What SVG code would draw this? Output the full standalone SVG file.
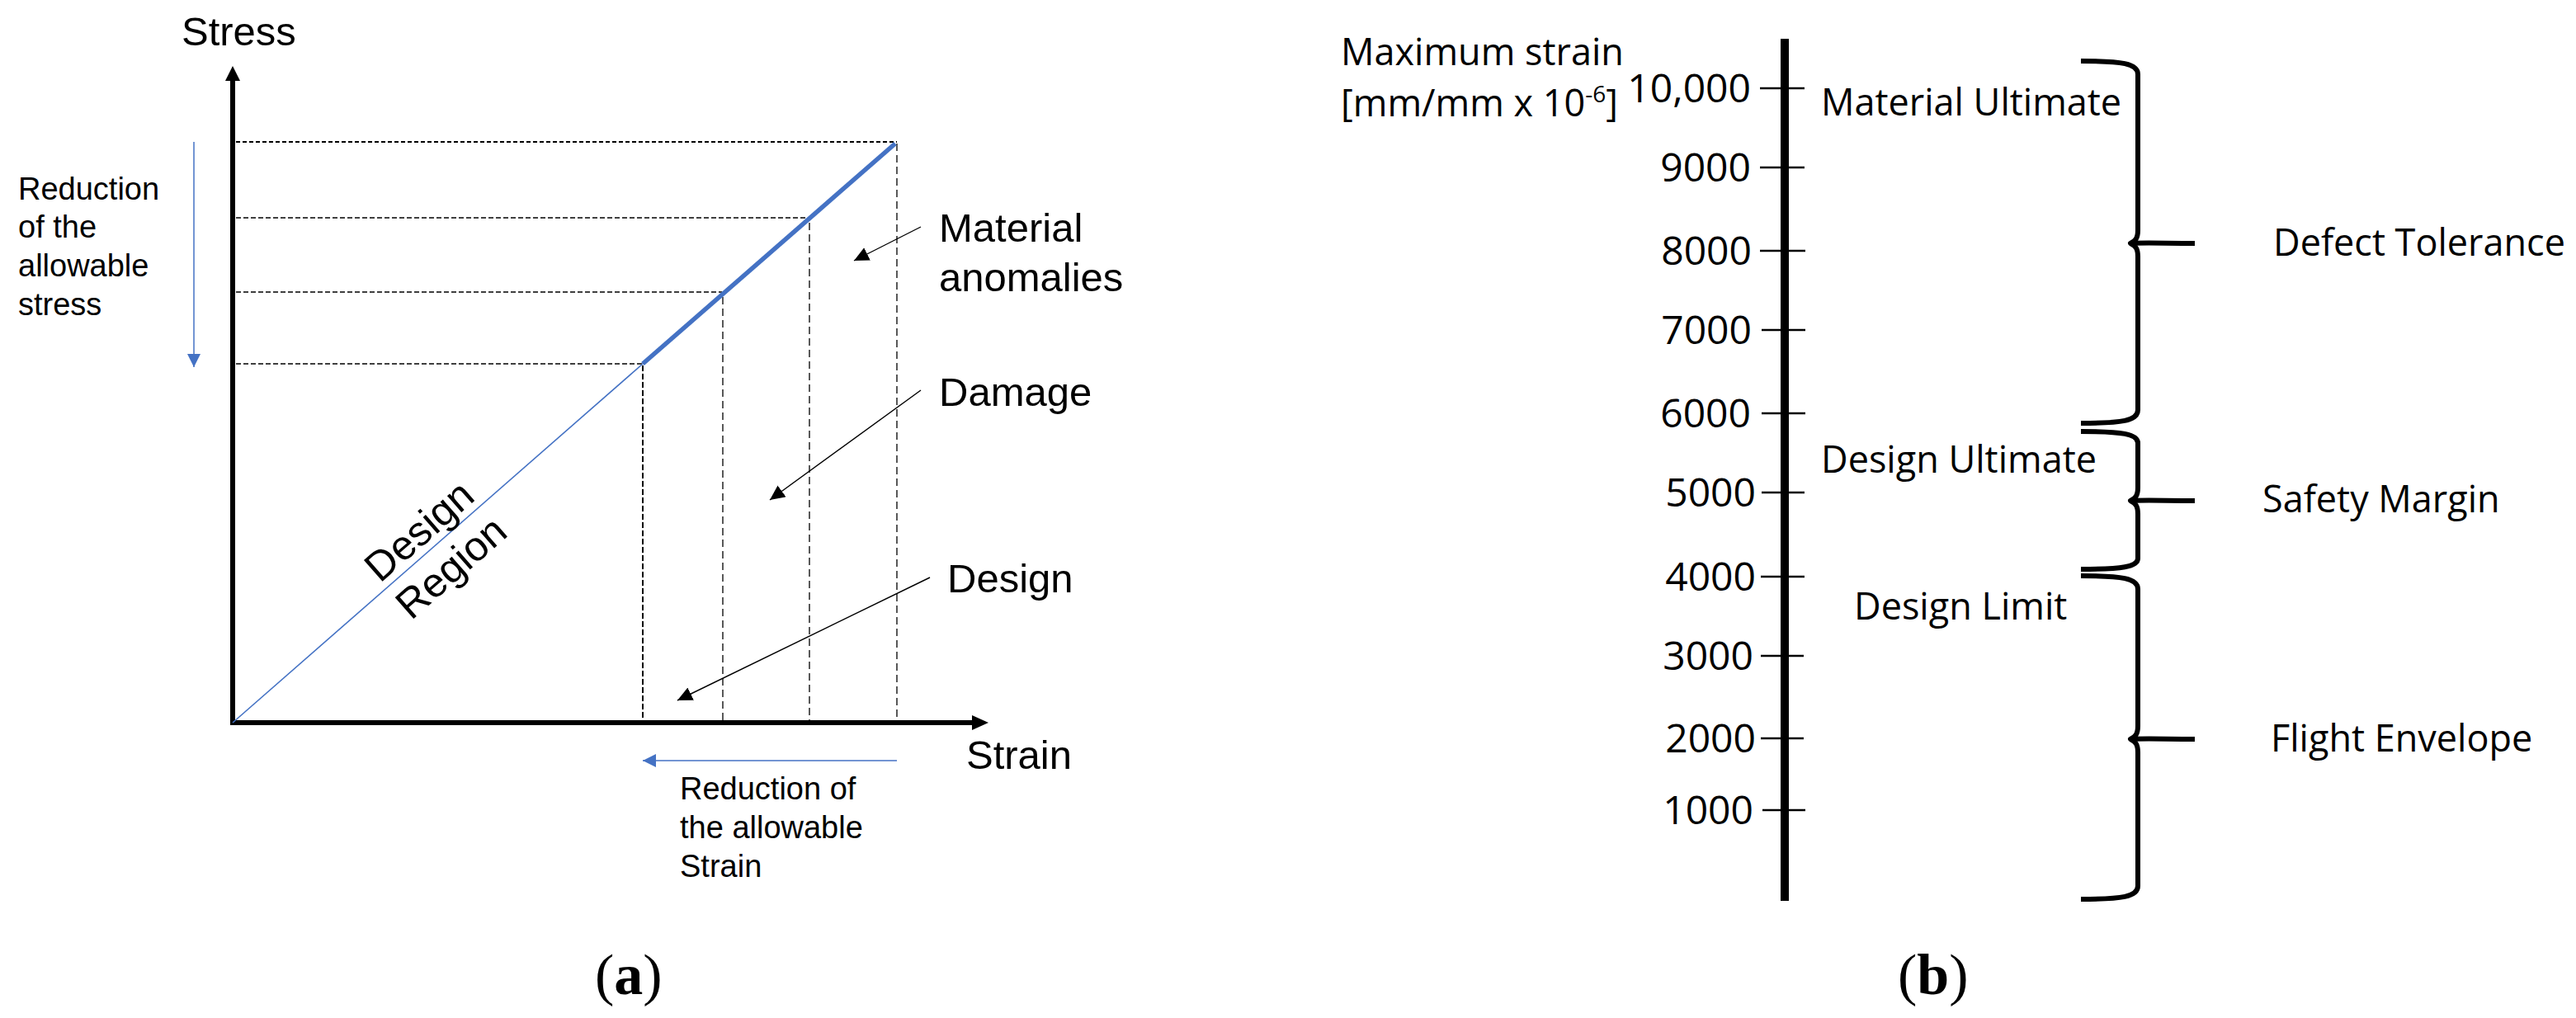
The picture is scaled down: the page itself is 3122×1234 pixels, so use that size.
<svg xmlns="http://www.w3.org/2000/svg" width="3122" height="1234" viewBox="0 0 3122 1234">
<style>
.sa{font-family:"Liberation Sans",Arial,sans-serif;fill:#000}
.sb{font-family:"Open Sans","Noto Sans",sans-serif;fill:#000}
.serif{font-family:"Liberation Serif","Times New Roman",serif;fill:#000}
.axis{stroke:#000;stroke-width:6;fill:none}
.dA{stroke:#000;stroke-width:2;stroke-dasharray:5 3;fill:none}
.dB{stroke:#000;stroke-width:1.3;stroke-dasharray:6 3;fill:none}
.dV{stroke:#000;stroke-width:1.3;stroke-dasharray:9 5;fill:none}
.ann{stroke:#000;stroke-width:1.4;fill:none;marker-end:url(#ah)}
.blue{stroke:#4472C4;fill:none}
.tick{stroke:#000;stroke-width:2.5}
.brace{stroke:#000;stroke-width:6;fill:none;stroke-linejoin:round;stroke-linecap:butt}
</style>
<defs>
<marker id="ah" markerUnits="userSpaceOnUse" markerWidth="19" markerHeight="18" refX="18" refY="8.5" orient="auto">
<path d="M0,0 L18,8.5 L0,17 z" fill="#000"/>
</marker>
<marker id="bh" markerUnits="userSpaceOnUse" markerWidth="18" markerHeight="18" refX="16" refY="8" orient="auto">
<path d="M0,0 L16,8 L0,16 z" fill="#4472C4"/>
</marker>
</defs>
<rect x="0" y="0" width="3122" height="1234" fill="#fff"/>

<!-- Panel (a) -->
<g id="panel-a">
<g id="axes">
<line class="axis" x1="282" y1="96" x2="282" y2="879"/>
<polygon points="282,80 273,98 291,98" fill="#000"/>
<line class="axis" x1="279" y1="876" x2="1180" y2="876"/>
<polygon points="1198,876 1178,867 1178,885" fill="#000"/>
<text class="sa" x="220" y="55" font-size="49">Stress</text>
<text class="sa" x="1171" y="932" font-size="49">Strain</text>
</g>
<g id="guides">
<line class="dA" x1="286" y1="172" x2="1087" y2="172"/>
<line class="dB" x1="286" y1="264" x2="978" y2="264"/>
<line class="dB" x1="286" y1="354" x2="875" y2="354"/>
<line class="dB" x1="286" y1="441" x2="779" y2="441"/>
<line stroke="#000" stroke-width="2" stroke-dasharray="7 3" x1="779" y1="443" x2="779" y2="873"/>
<line class="dV" x1="876" y1="360" x2="876" y2="873"/>
<line class="dV" x1="981" y1="270" x2="981" y2="873"/>
<line class="dV" x1="1087" y1="174" x2="1087" y2="873"/>
</g>
<g id="curve">
<line class="blue" stroke-width="1.6" x1="282" y1="876" x2="779" y2="441"/>
<line class="blue" stroke-width="5.5" x1="779" y1="441" x2="1085" y2="174"/>
</g>
<g id="design-region" transform="translate(525,663) rotate(-41.2)">
<text class="sa" x="0" y="-9" font-size="50" text-anchor="middle">Design</text>
<text class="sa" x="0" y="50" font-size="50" text-anchor="middle">Region</text>
</g>
<g id="label-material">
<text class="sa" x="1138" y="293" font-size="49">Material</text>
<text class="sa" x="1138" y="353" font-size="49">anomalies</text>
</g>
<g id="label-damage"><text class="sa" x="1138" y="492" font-size="49">Damage</text></g>
<g id="label-design"><text class="sa" x="1148" y="718" font-size="49">Design</text></g>
<g id="stress-reduction">
<text class="sa" font-size="38"><tspan x="22" y="242">Reduction</tspan><tspan x="22" y="288">of the</tspan><tspan x="22" y="335">allowable</tspan><tspan x="22" y="382">stress</tspan></text>
</g>
<g id="strain-reduction">
<text class="sa" font-size="38"><tspan x="824" y="969">Reduction of</tspan><tspan x="824" y="1016">the allowable</tspan><tspan x="824" y="1063">Strain</tspan></text>
</g>
<g id="connectors-a">
<line class="ann" x1="1116" y1="275" x2="1035" y2="316"/>
<line class="ann" x1="1116" y1="473" x2="933" y2="606"/>
<line class="ann" x1="1127" y1="700" x2="821" y2="849"/>
<line class="blue" stroke-width="1.5" x1="235" y1="172" x2="235" y2="445" marker-end="url(#bh)"/>
<line class="blue" stroke-width="1.5" x1="1087" y1="922" x2="779" y2="922" marker-end="url(#bh)"/>
</g>
<text class="serif" x="721" y="1205" font-size="70">(<tspan font-weight="bold">a</tspan>)</text>
</g>

<!-- Panel (b) -->
<g id="panel-b">
<g id="scale">
<line stroke="#000" stroke-width="10" x1="2163" y1="47" x2="2163" y2="1092"/>
<line class="tick" x1="2133" y1="107" x2="2187" y2="107"/>
<line class="tick" x1="2133" y1="203" x2="2187" y2="203"/>
<line class="tick" x1="2133" y1="304" x2="2188" y2="304"/>
<line class="tick" x1="2135" y1="400" x2="2188" y2="400"/>
<line class="tick" x1="2135" y1="501" x2="2188" y2="501"/>
<line class="tick" x1="2135" y1="597" x2="2187" y2="597"/>
<line class="tick" x1="2134" y1="699" x2="2187" y2="699"/>
<line class="tick" x1="2134" y1="795" x2="2186" y2="795"/>
<line class="tick" x1="2134" y1="895" x2="2186" y2="895"/>
<line class="tick" x1="2136" y1="982" x2="2188" y2="982"/>
<g class="sb" font-size="48" text-anchor="end">
<text x="2122" y="124">10,000</text>
<text x="2122" y="220">9000</text>
<text x="2123" y="321">8000</text>
<text x="2123" y="417">7000</text>
<text x="2122" y="518">6000</text>
<text x="2128" y="614">5000</text>
<text x="2128" y="716">4000</text>
<text x="2125" y="812">3000</text>
<text x="2128" y="912">2000</text>
<text x="2125" y="999">1000</text>
</g>
<text class="sb" x="1625" y="79" font-size="45">Maximum strain</text>
<text class="sb" x="1625" y="141" font-size="45">[mm/mm x 10<tspan font-size="28" dy="-17">-6</tspan><tspan dy="17">]</tspan></text>
</g>
<g id="label-material-ultimate"><text class="sb" x="2207" y="140" font-size="45">Material Ultimate</text></g>
<g id="label-design-ultimate"><text class="sb" x="2207" y="573" font-size="45">Design Ultimate</text></g>
<g id="label-design-limit"><text class="sb" x="2247" y="751" font-size="45">Design Limit</text></g>
<g id="brace-defect">
<path class="brace" d="M2522 74 C2572 74 2591 77 2591 90 L2591 279 C2591 289 2588 292 2582 295 C2600 294 2625 295 2660 295 M2582 295 C2588 298 2591 301 2591 311 L2591 497 C2591 510 2572 513 2522 513"/>
<text class="sb" x="2755" y="310" font-size="45">Defect Tolerance</text>
</g>
<g id="brace-safety">
<path class="brace" d="M2522 523 C2572 523 2591 526 2591 537 L2591 591 C2591 601 2588 604 2582 607 C2600 606 2625 607 2660 607 M2582 607 C2588 610 2591 613 2591 623 L2591 677 C2591 687 2572 690 2522 690"/>
<text class="sb" x="2742" y="621" font-size="45">Safety Margin</text>
</g>
<g id="brace-flight">
<path class="brace" d="M2522 698 C2572 698 2591 701 2591 714 L2591 880 C2591 890 2588 893 2582 896 C2600 895 2625 896 2660 896 M2582 896 C2588 899 2591 902 2591 912 L2591 1074 C2591 1087 2572 1090 2522 1090"/>
<text class="sb" x="2752" y="911" font-size="45">Flight Envelope</text>
</g>
<text class="serif" x="2300" y="1205" font-size="70">(<tspan font-weight="bold">b</tspan>)</text>
</g>
</svg>
